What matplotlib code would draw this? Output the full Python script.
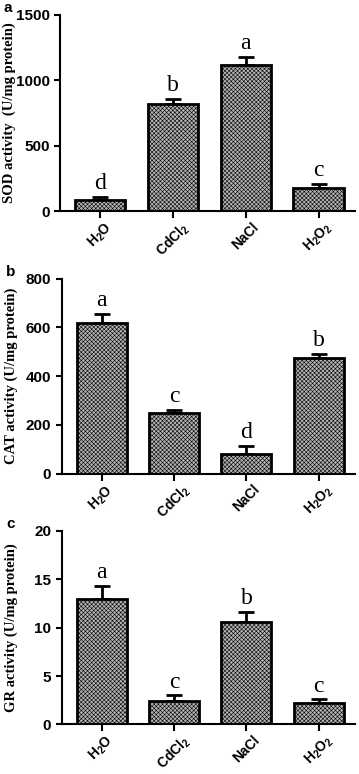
import matplotlib
matplotlib.use("Agg")
import matplotlib.pyplot as plt
import numpy as np

# treatments
labels = ["H$_2$O", "CdCl$_2$", "NaCl", "H$_2$O$_2$"]

# SOD
sod_mean = [90, 815, 1120, 175]
sod_err = [20, 45, 60, 35]
sod_sig = ["d", "b", "a", "c"]

# CAT
cat_mean = [620, 250, 82, 475]
cat_err = [37, 12, 33, 15]
cat_sig = ["a", "c", "d", "b"]

# GR
gr_mean = [13.0, 2.4, 10.6, 2.2]
gr_err = [1.3, 0.6, 1.0, 0.4]
gr_sig = ["a", "c", "b", "c"]

plt.rcParams["font.family"] = "Liberation Sans"
plt.rcParams["font.weight"] = "bold"
plt.rcParams["mathtext.fontset"] = "custom"
plt.rcParams["mathtext.rm"] = "Liberation Sans:bold"
plt.rcParams["mathtext.it"] = "Liberation Sans:bold"
plt.rcParams["mathtext.bf"] = "Liberation Sans:bold"
plt.rcParams["hatch.color"] = "#555555"
plt.rcParams["hatch.linewidth"] = 0.4


def panel(ax, means, errs, sig, ymax, step, ylabel, tag):
    x = np.arange(len(means))
    ax.bar(x, means, width=0.69, color="#b4b4b4", edgecolor="black",
           linewidth=2, hatch="xxxxxxxx", zorder=2)
    ax.errorbar(x, means, yerr=[np.zeros(len(errs)), errs], fmt="none",
                ecolor="black", elinewidth=2, capsize=6, capthick=2, zorder=1)
    for xi, m, e, s in zip(x, means, errs, sig):
        ax.annotate(s, (xi, m + e), xytext=(0, 2), textcoords="offset points",
                    ha="center", va="bottom", fontsize=17,
                    family="Liberation Serif", weight="normal")
    ax.set_xlim(-0.55, 3.5)
    ax.set_ylim(0, ymax)
    ax.set_yticks(np.arange(0, ymax + step / 2, step))
    ax.set_xticks(x)
    ax.set_xticklabels(labels, rotation=45, ha="center", va="top", fontsize=10)
    ax.tick_params(axis="y", labelsize=11, width=1.5, length=4)
    ax.tick_params(axis="x", width=1.5, length=5, pad=1)
    for side in ["top", "right"]:
        ax.spines[side].set_visible(False)
    for side in ["left", "bottom"]:
        ax.spines[side].set_linewidth(1.5)
    ax.set_ylabel(ylabel, family="Liberation Serif", weight="bold", fontsize=10.5)
    ax.yaxis.set_label_coords(-0.15, 0.5)
    ax.text(-0.19, 1.0, tag, transform=ax.transAxes, fontsize=11,
            weight="bold", ha="left", va="bottom")


fig = plt.figure(figsize=(3.59, 7.74), dpi=100)
ax_a = fig.add_axes([0.167, 0.727, 0.822, 0.254])
ax_b = fig.add_axes([0.172, 0.388, 0.817, 0.252])
ax_c = fig.add_axes([0.172, 0.064, 0.817, 0.250])

panel(ax_a, sod_mean, sod_err, sod_sig, 1500, 500, "SOD activity  (U/mg protein)", "a")
panel(ax_b, cat_mean, cat_err, cat_sig, 800, 200, "CAT activity (U/mg protein)", "b")
panel(ax_c, gr_mean, gr_err, gr_sig, 20, 5, "GR activity (U/mg protein)", "c")

fig.savefig("out.png", dpi=100)
